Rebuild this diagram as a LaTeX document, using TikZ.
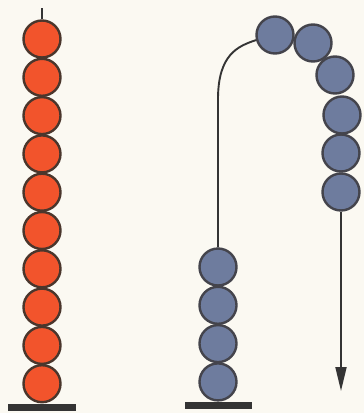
\documentclass[tikz,border=0pt]{standalone}
\usetikzlibrary{positioning,arrows.meta}
\definecolor{paper}{RGB}{251,249,242}
\definecolor{beadred}{RGB}{242,84,44}
\definecolor{beadblue}{RGB}{110,124,158}
\definecolor{redrim}{RGB}{74,54,44}
\definecolor{bluerim}{RGB}{68,68,76}
\definecolor{rod}{RGB}{52,52,52}

\begin{document}
\begin{tikzpicture}[
  x=1pt, y=-1pt,
  node distance=-1.1pt,
  bead/.style={
    circle,
    line width=2.4pt,
    minimum size=37pt,
    inner sep=0pt
  },
  redbead/.style={bead, draw=redrim, fill=beadred},
  bluebead/.style={bead, draw=bluerim, fill=beadblue},
  stand/.style={fill=rod, inner sep=0pt, minimum height=7pt},
  thread/.style={draw=rod, line width=1.9pt},
  arrow/.style={thread, -{Triangle[length=24pt,width=11pt]}}
]
\fill[paper] (0,0) rectangle (364,413);
% left rod, full of beads
\node[redbead] (r1) at (42,39) {};
\node[redbead, below=of r1] (r2) {};
\node[redbead, below=of r2] (r3) {};
\node[redbead, below=of r3] (r4) {};
\node[redbead, below=of r4] (r5) {};
\node[redbead, below=of r5] (r6) {};
\node[redbead, below=of r6] (r7) {};
\node[redbead, below=of r7] (r8) {};
\node[redbead, below=of r8] (r9) {};
\node[redbead, below=of r9] (r10) {};
\node[stand, minimum width=68pt, below=0.5pt of r10] (baseL) {};
\coordinate (rodtop) at (42,8);
\draw[thread] (r1.north) -- (rodtop);
% right rod, beads slipping off
\node[bluebead] (b1) at (218,267) {};
\node[bluebead, below=of b1] (b2) {};
\node[bluebead, below=of b2] (b3) {};
\node[bluebead, below=of b3] (b4) {};
\node[stand, minimum width=67pt, below=0.5pt of b4] (baseR) {};
\node[bluebead] (u1) at (275,35) {};
\node[bluebead] (u2) at (313,43) {};
\node[bluebead] (u3) at (335,75) {};
\node[bluebead] (u4) at (342,115) {};
\node[bluebead] (u5) at (341,153) {};
\node[bluebead] (u6) at (341,192) {};
\coordinate (tip) at (341,391);
\draw[thread] (b1.north) -- ++(0,-148) .. controls +(0,-45) and +(-18,6) .. (u1.195);
\draw[arrow] (u6.south) -- (tip);
\end{tikzpicture}
\end{document}
